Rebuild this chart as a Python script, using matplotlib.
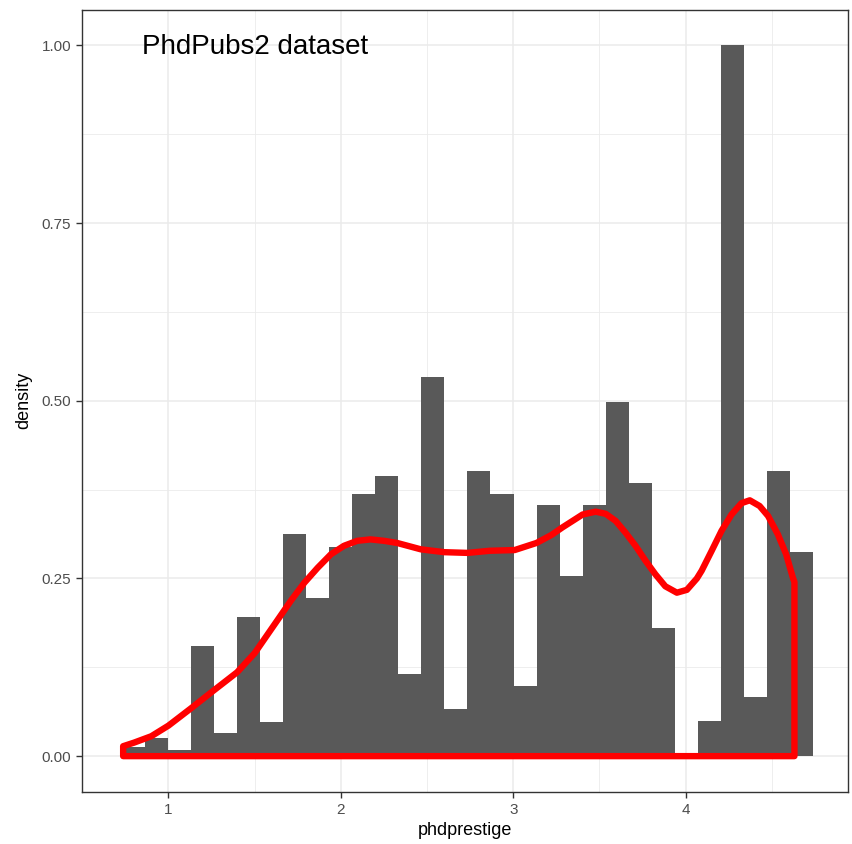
import numpy as np
import matplotlib
matplotlib.use("Agg")
from matplotlib import pyplot as plt

# histogram of phdprestige (30 bins), heights
bin_first = 0.727
bin_width = 0.1338
bar_heights = [0.013, 0.025, 0.008, 0.155, 0.033, 0.196, 0.048, 0.312, 0.222, 0.294,
               0.369, 0.394, 0.115, 0.533, 0.067, 0.401, 0.369, 0.099, 0.353, 0.254,
               0.353, 0.499, 0.385, 0.181, 0.0, 0.049, 1.0, 0.083, 0.401, 0.287]

# kernel density curve
dens_x = [0.737, 0.80, 0.90, 1.00, 1.129, 1.26, 1.398, 1.50, 1.557, 1.634, 1.711,
          1.788, 1.865, 1.942, 2.018, 2.095, 2.172, 2.25, 2.326, 2.464, 2.60, 2.735,
          2.864, 3.008, 3.135, 3.22, 3.286, 3.344, 3.402, 3.478, 3.536, 3.594, 3.651,
          3.709, 3.767, 3.824, 3.882, 3.949, 4.007, 4.065, 4.093, 4.151, 4.208, 4.266,
          4.324, 4.372, 4.429, 4.478, 4.535, 4.583, 4.622, 4.631]
dens_y = [0.014, 0.019, 0.028, 0.043, 0.067, 0.092, 0.118, 0.145, 0.165, 0.192, 0.219,
          0.244, 0.265, 0.284, 0.296, 0.303, 0.305, 0.303, 0.300, 0.291, 0.287, 0.286,
          0.289, 0.290, 0.300, 0.311, 0.322, 0.331, 0.340, 0.344, 0.341, 0.331, 0.3145,
          0.296, 0.275, 0.256, 0.239, 0.230, 0.234, 0.250, 0.261, 0.289, 0.317, 0.340,
          0.356, 0.360, 0.352, 0.338, 0.312, 0.284, 0.251, 0.245]

x_ticks = [1, 2, 3, 4]
y_ticks = [0.0, 0.25, 0.5, 0.75, 1.0]
y_ticklabels = ["0.00", "0.25", "0.50", "0.75", "1.00"]

plt.rcParams['font.family'] = ['Liberation Sans', 'DejaVu Sans']

fig = plt.figure(figsize=(8.52, 8.44), dpi=100)
ax = fig.add_axes([0.0966, 0.0620, 0.8987, 0.9262])

lefts = bin_first + bin_width * np.arange(len(bar_heights))
ax.bar(lefts, bar_heights, width=bin_width, align='edge', color='#595959',
       edgecolor='none', zorder=2)

# density outline is a closed polygon, like geom_density
px = [dens_x[0]] + dens_x + [dens_x[-1]]
py = [0.0] + dens_y + [0.0]
ax.fill(px, py, facecolor='none', edgecolor='red', linewidth=4.6,
        joinstyle='round', zorder=3)

ax.text(1.5, 0.998, "PhdPubs2 dataset", fontsize=20, ha='center', va='center',
        color='black', zorder=4)

lo, hi = bin_first, bin_first + bin_width * len(bar_heights)
pad = (hi - lo) * 0.05
ax.set_xlim(lo - pad, hi + pad)
ax.set_ylim(-0.05, 1.05)

ax.set_xticks(x_ticks)
ax.set_xticks([0.5, 1.5, 2.5, 3.5, 4.5], minor=True)
ax.set_yticks(y_ticks)
ax.set_yticklabels(y_ticklabels)
ax.set_yticks([0.125, 0.375, 0.625, 0.875], minor=True)

ax.grid(which='major', color='#ebebeb', linewidth=1.1, zorder=0)
ax.grid(which='minor', color='#ebebeb', linewidth=0.6, zorder=0)
ax.set_axisbelow(True)

for s in ax.spines.values():
    s.set_color('#333333')
    s.set_linewidth(1.0)

ax.tick_params(which='major', length=4, width=1.0, color='#333333',
               labelsize=11, labelcolor='#4d4d4d', pad=4)
ax.tick_params(which='minor', length=0)

ax.set_xlabel("phdprestige", fontsize=13, color='black', labelpad=4)
ax.set_ylabel("density", fontsize=13, color='black', labelpad=7)

fig.savefig("out.png", dpi=100)
